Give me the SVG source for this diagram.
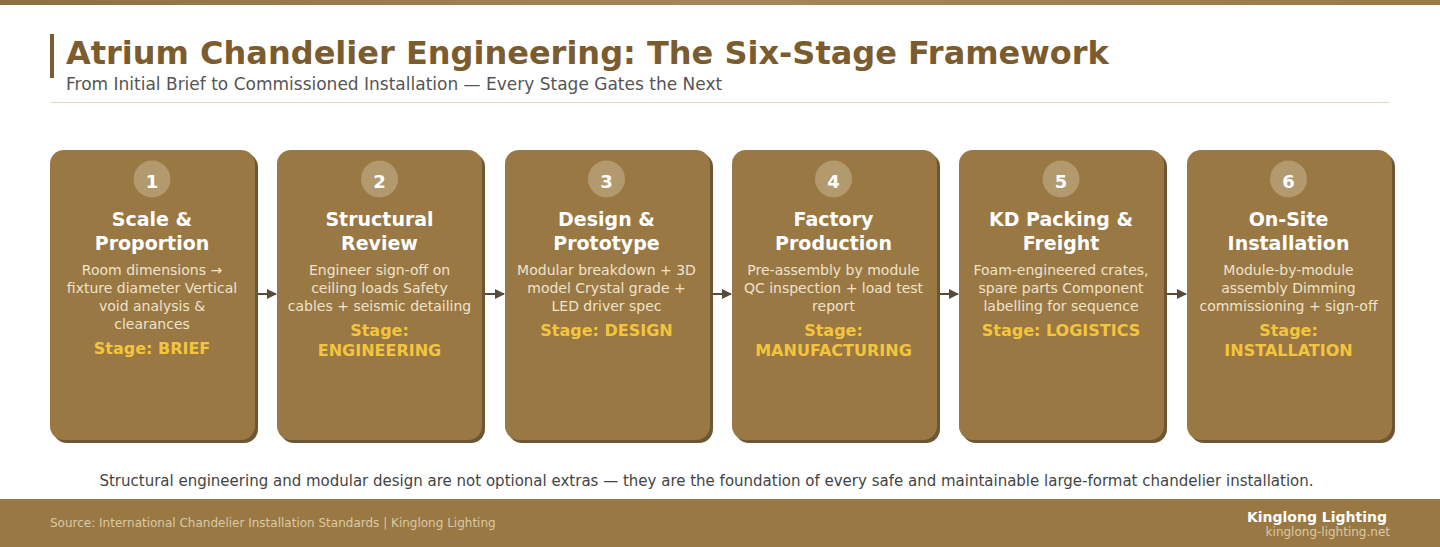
<svg xmlns="http://www.w3.org/2000/svg" width="1440" height="547" viewBox="0 0 1440 547">
<style>
.t{font-family:"DejaVu Sans",Verdana,sans-serif}
.num{font-family:"DejaVu Sans",sans-serif;font-weight:bold;font-size:18px;fill:#fff;text-anchor:middle}
.ttl{font-family:"DejaVu Sans",sans-serif;font-weight:bold;font-size:19px;fill:#fff;text-anchor:middle}
.desc{font-family:"DejaVu Sans",sans-serif;font-size:14px;fill:#efe3cc;text-anchor:middle}
.stg{font-family:"DejaVu Sans",sans-serif;font-weight:bold;font-size:16px;fill:#f3c53f;text-anchor:middle}
.card{fill:#997843}
.shd{fill:#6c5634}
.circ{fill:#b39a6e}
.conn{stroke:#5a4a38;stroke-width:2;fill:none}
</style>
<defs>
<linearGradient id="topg" x1="0" x2="1" y1="0" y2="0">
<stop offset="0" stop-color="#8e7040"/><stop offset="0.5" stop-color="#a4865a"/><stop offset="1" stop-color="#9a7a47"/>
</linearGradient>
<marker id="ah" viewBox="0 0 10 10" refX="9" refY="5" markerWidth="5" markerHeight="5" orient="auto">
<path d="M0,0 L10,5 L0,10 z" fill="#5a4a38"/>
</marker>
</defs>
<rect x="0" y="0" width="1440" height="547" fill="#fff"/>
<rect x="0" y="0" width="1440" height="5" fill="url(#topg)"/>
<g id="header">
<rect x="50" y="34" width="4" height="44" fill="#7a5c2e"/>
<text class="t" x="66" y="64" font-size="32" font-weight="bold" fill="#7a5c2e">Atrium Chandelier Engineering: The Six-Stage Framework</text>
<text class="t" x="66" y="90" font-size="17" fill="#555">From Initial Brief to Commissioned Installation — Every Stage Gates the Next</text>
<rect x="50" y="102" width="1340" height="1" fill="#e2d8c8"/>
</g>
<g id="connectors">
<line class="conn" x1="256" y1="294" x2="276" y2="294" marker-end="url(#ah)"/>
<line class="conn" x1="483" y1="294" x2="504" y2="294" marker-end="url(#ah)"/>
<line class="conn" x1="711" y1="294" x2="731" y2="294" marker-end="url(#ah)"/>
<line class="conn" x1="938" y1="294" x2="958" y2="294" marker-end="url(#ah)"/>
<line class="conn" x1="1166" y1="294" x2="1186" y2="294" marker-end="url(#ah)"/>
</g>
<g id="node1">
<rect class="shd" x="53" y="153" width="205" height="290" rx="14"/>
<rect class="card" x="50" y="150" width="205" height="290" rx="14"/>
<circle class="circ" cx="152" cy="179" r="18.5"/>
<text class="num" x="152" y="188">1</text>
<text class="ttl" x="152" y="226">Scale &amp;</text>
<text class="ttl" x="152" y="250">Proportion</text>
<text class="desc" x="152" y="275">Room dimensions →</text>
<text class="desc" x="152" y="293">fixture diameter Vertical</text>
<text class="desc" x="152" y="311">void analysis &amp;</text>
<text class="desc" x="152" y="329">clearances</text>
<text class="stg" x="152" y="354">Stage: BRIEF</text>
</g>
<g id="node2">
<rect class="shd" x="280" y="153" width="205" height="290" rx="14"/>
<rect class="card" x="277" y="150" width="205" height="290" rx="14"/>
<circle class="circ" cx="379.5" cy="179" r="18.5"/>
<text class="num" x="379.5" y="188">2</text>
<text class="ttl" x="379.5" y="226">Structural</text>
<text class="ttl" x="379.5" y="250">Review</text>
<text class="desc" x="379.5" y="275">Engineer sign-off on</text>
<text class="desc" x="379.5" y="293">ceiling loads Safety</text>
<text class="desc" x="379.5" y="311">cables + seismic detailing</text>
<text class="stg" x="379.5" y="336">Stage:</text>
<text class="stg" x="379.5" y="356">ENGINEERING</text>
</g>
<g id="node3">
<rect class="shd" x="508" y="153" width="205" height="290" rx="14"/>
<rect class="card" x="505" y="150" width="205" height="290" rx="14"/>
<circle class="circ" cx="606.5" cy="179" r="18.5"/>
<text class="num" x="606.5" y="188">3</text>
<text class="ttl" x="606.5" y="226">Design &amp;</text>
<text class="ttl" x="606.5" y="250">Prototype</text>
<text class="desc" x="606.5" y="275">Modular breakdown + 3D</text>
<text class="desc" x="606.5" y="293">model Crystal grade +</text>
<text class="desc" x="606.5" y="311">LED driver spec</text>
<text class="stg" x="606.5" y="336">Stage: DESIGN</text>
</g>
<g id="node4">
<rect class="shd" x="735" y="153" width="205" height="290" rx="14"/>
<rect class="card" x="732" y="150" width="205" height="290" rx="14"/>
<circle class="circ" cx="833.5" cy="179" r="18.5"/>
<text class="num" x="833.5" y="188">4</text>
<text class="ttl" x="833.5" y="226">Factory</text>
<text class="ttl" x="833.5" y="250">Production</text>
<text class="desc" x="833.5" y="275">Pre-assembly by module</text>
<text class="desc" x="833.5" y="293">QC inspection + load test</text>
<text class="desc" x="833.5" y="311">report</text>
<text class="stg" x="833.5" y="336">Stage:</text>
<text class="stg" x="833.5" y="356">MANUFACTURING</text>
</g>
<g id="node5">
<rect class="shd" x="962" y="153" width="205" height="290" rx="14"/>
<rect class="card" x="959" y="150" width="205" height="290" rx="14"/>
<circle class="circ" cx="1061" cy="179" r="18.5"/>
<text class="num" x="1061" y="188">5</text>
<text class="ttl" x="1061" y="226">KD Packing &amp;</text>
<text class="ttl" x="1061" y="250">Freight</text>
<text class="desc" x="1061" y="275">Foam-engineered crates,</text>
<text class="desc" x="1061" y="293">spare parts Component</text>
<text class="desc" x="1061" y="311">labelling for sequence</text>
<text class="stg" x="1061" y="336">Stage: LOGISTICS</text>
</g>
<g id="node6">
<rect class="shd" x="1190" y="153" width="205" height="290" rx="14"/>
<rect class="card" x="1187" y="150" width="205" height="290" rx="14"/>
<circle class="circ" cx="1288.5" cy="179" r="18.5"/>
<text class="num" x="1288.5" y="188">6</text>
<text class="ttl" x="1288.5" y="226">On-Site</text>
<text class="ttl" x="1288.5" y="250">Installation</text>
<text class="desc" x="1288.5" y="275">Module-by-module</text>
<text class="desc" x="1288.5" y="293">assembly Dimming</text>
<text class="desc" x="1288.5" y="311">commissioning + sign-off</text>
<text class="stg" x="1288.5" y="336">Stage:</text>
<text class="stg" x="1288.5" y="356">INSTALLATION</text>
</g>
<g id="note">
<text class="t" x="706.5" y="486" font-size="15" fill="#444" text-anchor="middle">Structural engineering and modular design are not optional extras — they are the foundation of every safe and maintainable large-format chandelier installation.</text>
</g>
<g id="footer">
<rect x="0" y="499" width="1440" height="48" fill="#997843"/>
<text class="t" x="50" y="527" font-size="12" fill="#d9c9a6">Source: International Chandelier Installation Standards | Kinglong Lighting</text>
<text class="t" x="1387" y="522" font-size="14" font-weight="bold" fill="#fff" text-anchor="end">Kinglong Lighting</text>
<text class="t" x="1390" y="536" font-size="12" fill="#d9c9a6" text-anchor="end">kinglong-lighting.net</text>
</g>
</svg>
